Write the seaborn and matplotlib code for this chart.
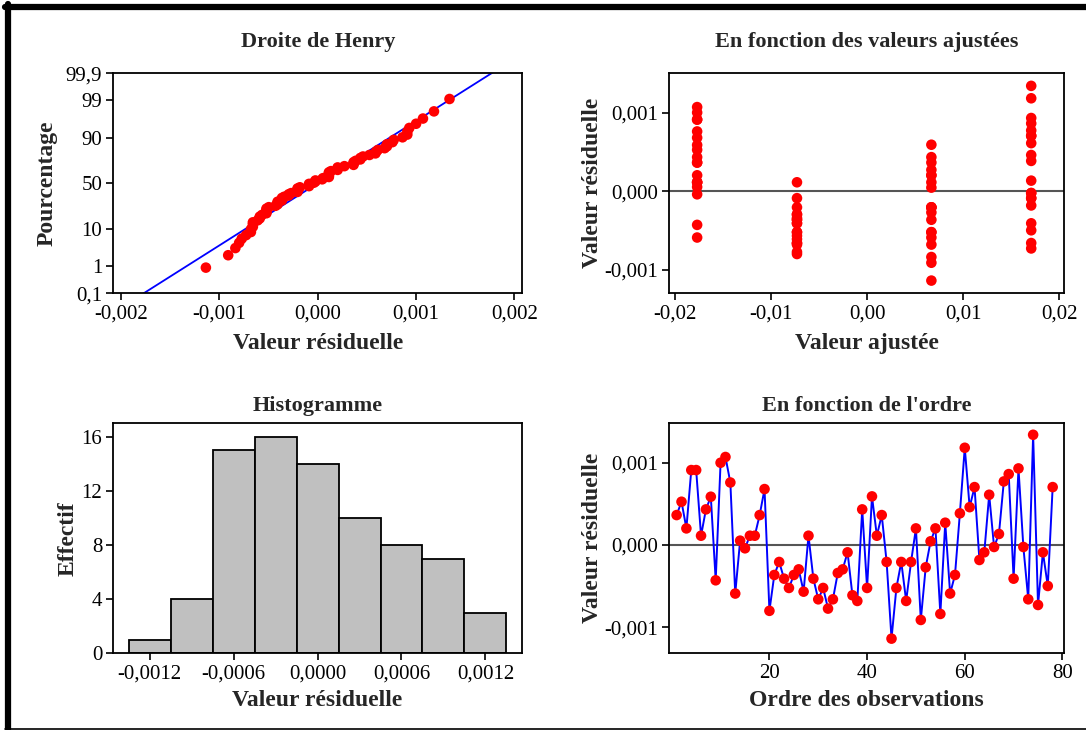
import numpy as np
import pandas as pd
import matplotlib
matplotlib.use('Agg')
import matplotlib.pyplot as plt
from matplotlib.lines import Line2D
import seaborn as sns
from statistics import NormalDist

residuals = [0.000364, 0.000526, 0.000202, 0.000911, 0.000911, 0.000113, 0.000433, 0.000587,
             -0.000429, 0.001000, 0.001070, 0.000760, -0.000590, 0.000053, -0.000040, 0.000113,
             0.000113, 0.000364, 0.000680, -0.000800, -0.000364, -0.000206, -0.000409, -0.000522,
             -0.000364, -0.000296, -0.000567, 0.000113, -0.000409, -0.000660, -0.000522, -0.000773,
             -0.000660, -0.000340, -0.000296, -0.000089, -0.000611, -0.000680, 0.000433, -0.000522,
             0.000591, 0.000113, 0.000364, -0.000206, -0.001138, -0.000522, -0.000206, -0.000680,
             -0.000206, 0.000202, -0.000911, -0.000271, 0.000045, 0.000202, -0.000838, 0.000271,
             -0.000590, -0.000364, 0.000385, 0.001182, 0.000460, 0.000704, -0.000182, -0.000089,
             0.000611, -0.000024, 0.000134, 0.000773, 0.000862, -0.000409, 0.000931, -0.000024,
             -0.000660, 0.001340, -0.000729, -0.000089, -0.000498, 0.000704]

# fitted value of each block of observations
fitted_levels = [-0.0177, -0.0073, 0.0067, 0.0171]
group_sizes = [19, 19, 20, 20]

prob_ticks = [0.1, 1, 10, 50, 90, 99, 99.9]
prob_labels = ['0,1', '1', '10', '50', '90', '99', '99,9']

hist_edges = [-0.00135 + 0.0003 * k for k in range(10)]

df = pd.DataFrame({'resid': residuals})
df['ordre'] = np.arange(1, len(df) + 1)
df['ajuste'] = np.repeat(fitted_levels, group_sizes)

# normal probability plot positions
n = len(df)
nd = NormalDist()
sorted_res = np.sort(df['resid'].values)
pp = (np.arange(1, n + 1) - 0.3) / (n + 0.4)
henry = pd.DataFrame({'x': sorted_res, 'z': [nd.inv_cdf(p) for p in pp]})
mu, sd = df['resid'].mean(), df['resid'].std()
z_lo, z_hi = nd.inv_cdf(0.001), nd.inv_cdf(0.999)
fit_line = pd.DataFrame({'z': [z_lo - 0.3, z_hi + 0.3]})
fit_line['x'] = mu + sd * fit_line['z']

sns.set_theme(style='ticks')
plt.rcParams['font.family'] = ['Liberation Serif', 'DejaVu Serif']
plt.rcParams['axes.linewidth'] = 1.3
plt.rcParams['xtick.major.width'] = 1.2
plt.rcParams['ytick.major.width'] = 1.2
plt.rcParams['xtick.major.size'] = 5
plt.rcParams['ytick.major.size'] = 5
plt.rcParams['xtick.major.pad'] = 3
plt.rcParams['ytick.major.pad'] = 3
plt.rcParams['xtick.labelsize'] = 15
plt.rcParams['ytick.labelsize'] = 15
plt.rcParams['xtick.color'] = 'black'
plt.rcParams['ytick.color'] = 'black'
plt.rcParams['axes.edgecolor'] = 'black'

fig = plt.figure(figsize=(10.86, 7.30), dpi=100)
ax1 = fig.add_axes([0.1043, 0.5982, 0.3766, 0.3014])
ax2 = fig.add_axes([0.6163, 0.5982, 0.3633, 0.3014])
ax3 = fig.add_axes([0.1043, 0.1051, 0.3762, 0.3151])
ax4 = fig.add_axes([0.6163, 0.1051, 0.3638, 0.3151])

top_title = dict(fontsize=16, fontweight='bold', pad=19)
bot_title = dict(fontsize=16, fontweight='bold', pad=9)
label_kw = dict(fontsize=17, fontweight='bold')
dot = dict(color='red', s=58, edgecolor='none', zorder=3)

# Droite de Henry
sns.lineplot(data=fit_line, x='x', y='z', ax=ax1, color='blue', lw=1.3, sort=False)
sns.scatterplot(data=henry, x='x', y='z', ax=ax1, **dot)
ax1.set_xlim(-0.00208, 0.00208)
ax1.set_ylim(z_lo, z_hi)
ax1.set_yticks([nd.inv_cdf(p / 100) for p in prob_ticks])
ax1.set_yticklabels(prob_labels)
ax1.set_xticks([-0.002, -0.001, 0, 0.001, 0.002])
ax1.set_xticklabels(['-0,002', '-0,001', '0,000', '0,001', '0,002'])
ax1.set_title('Droite de Henry', **top_title)
ax1.set_xlabel('Valeur résiduelle', labelpad=7, **label_kw)
ax1.set_ylabel('Pourcentage', labelpad=6, **label_kw)

# En fonction des valeurs ajustées
ax2.axhline(0, color='#555555', lw=1.5, zorder=1)
sns.scatterplot(data=df, x='ajuste', y='resid', ax=ax2, **dot)
ax2.set_xlim(-0.0206, 0.0205)
ax2.set_ylim(-0.0013, 0.0015)
ax2.set_xticks([-0.02, -0.01, 0, 0.01, 0.02])
ax2.set_xticklabels(['-0,02', '-0,01', '0,00', '0,01', '0,02'])
ax2.set_yticks([-0.001, 0, 0.001])
ax2.set_yticklabels(['-0,001', '0,000', '0,001'])
ax2.set_title('En fonction des valeurs ajustées', **top_title)
ax2.set_xlabel('Valeur ajustée', labelpad=7, **label_kw)
ax2.set_ylabel('Valeur résiduelle', labelpad=1, **label_kw)

# Histogramme
sns.histplot(data=df, x='resid', bins=hist_edges, ax=ax3, color='#c0c0c0',
             edgecolor='black', linewidth=1.3, alpha=1)
ax3.set_xlim(-0.00146, 0.00146)
ax3.set_ylim(0, 17)
ax3.set_xticks([-0.0012, -0.0006, 0, 0.0006, 0.0012])
ax3.set_xticklabels(['-0,0012', '-0,0006', '0,0000', '0,0006', '0,0012'])
ax3.set_yticks([0, 4, 8, 12, 16])
ax3.set_title('Histogramme', **bot_title)
ax3.set_xlabel('Valeur résiduelle', labelpad=5, **label_kw)
ax3.set_ylabel('Effectif', labelpad=2, **label_kw)

# En fonction de l'ordre
ax4.axhline(0, color='#555555', lw=1.5, zorder=1)
sns.lineplot(data=df, x='ordre', y='resid', ax=ax4, color='blue', lw=1.4, zorder=2)
sns.scatterplot(data=df, x='ordre', y='resid', ax=ax4, **dot)
ax4.set_xlim(-0.5, 80.4)
ax4.set_ylim(-0.001316, 0.00148)
ax4.set_xticks([20, 40, 60, 80])
ax4.set_yticks([-0.001, 0, 0.001])
ax4.set_yticklabels(['-0,001', '0,000', '0,001'])
ax4.set_title("En fonction de l'ordre", **bot_title)
ax4.set_xlabel('Ordre des observations', labelpad=5, **label_kw)
ax4.set_ylabel('Valeur résiduelle', labelpad=1, **label_kw)

for ax in (ax1, ax2, ax3, ax4):
    for s in ax.spines.values():
        s.set_visible(True)
    ax.tick_params(top=False, right=False)

# frame around the figure
fig.add_artist(Line2D([8 / 1086, 8 / 1086], [1 - 4 / 730, 1 - 729 / 730],
                      transform=fig.transFigure, color='black', lw=4.5))
fig.add_artist(Line2D([5 / 1086, 1.0], [1 - 7 / 730, 1 - 7 / 730],
                      transform=fig.transFigure, color='black', lw=4.5))
fig.add_artist(Line2D([5 / 1086, 1.0], [1 - 728.5 / 730, 1 - 728.5 / 730],
                      transform=fig.transFigure, color='black', lw=1.2))

fig.savefig('out.png', dpi=100)
